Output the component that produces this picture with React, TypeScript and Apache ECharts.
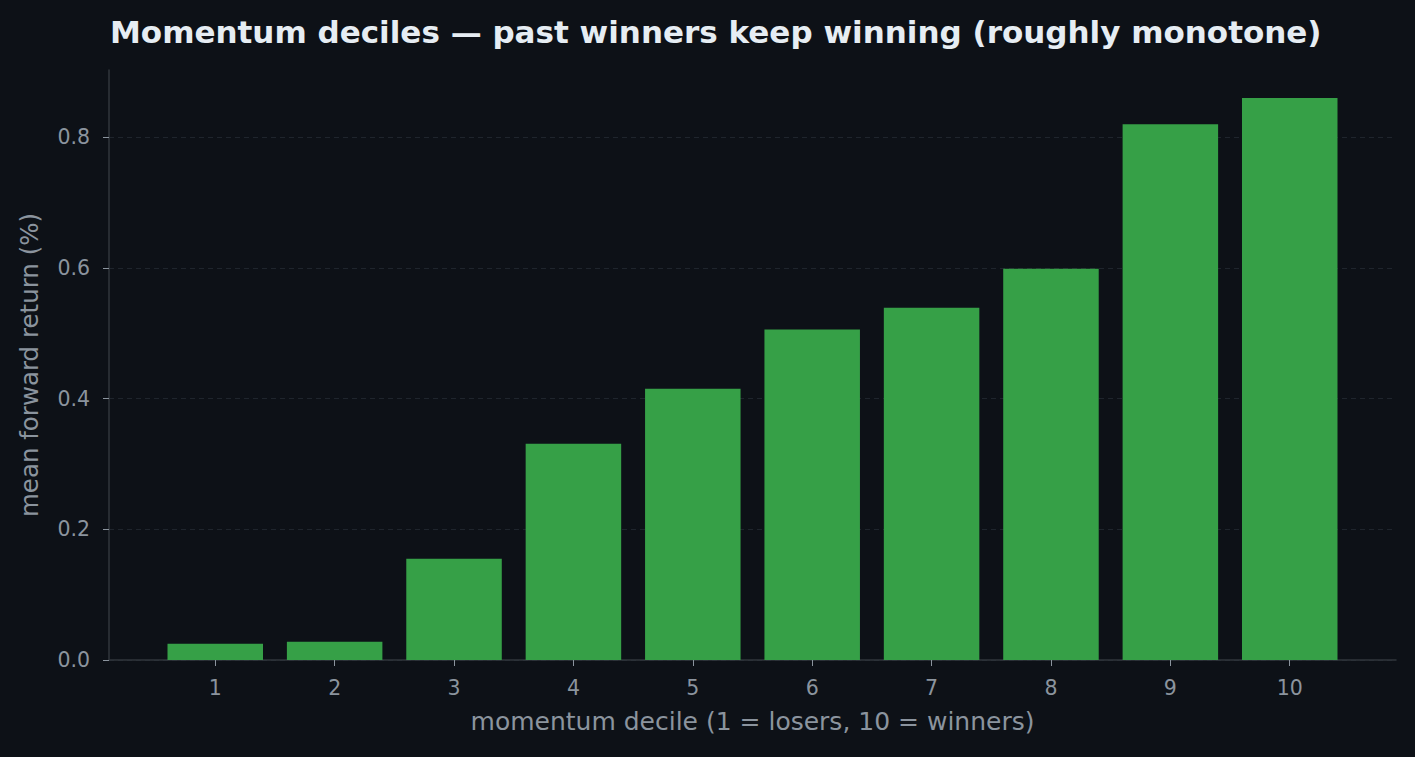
import { useEffect, useRef } from "react";
import * as echarts from "echarts";

const deciles = [1, 2, 3, 4, 5, 6, 7, 8, 9, 10];
const meanReturns = [0.025, 0.028, 0.155, 0.331, 0.415, 0.506, 0.539, 0.599, 0.82, 0.86];
const yTicks = [0, 0.2, 0.4, 0.6, 0.8];

const FONT = "DejaVu Sans";

export default function App() {
  const chartRef = useRef<HTMLDivElement>(null);

  useEffect(() => {
    if (!chartRef.current) return;
    const chart = echarts.init(chartRef.current, null, { renderer: "svg" });

    const option: echarts.EChartsOption = {
      animation: false,
      backgroundColor: "#0d1117",
      textStyle: { fontFamily: FONT },
      title: {
        text: "Momentum deciles — past winners keep winning (roughly monotone)",
        left: 105,
        top: 11,
        textStyle: { color: "#e6edf3", fontSize: 31, fontWeight: "bold", fontFamily: FONT },
      },
      grid: { left: 109, right: 19, top: 70, bottom: 97 },
      xAxis: {
        type: "value",
        min: 0.11,
        max: 10.89,
        name: "momentum decile (1 = losers, 10 = winners)",
        nameLocation: "middle",
        nameGap: 49,
        nameTextStyle: { color: "#8b949e", fontSize: 25, fontFamily: FONT },
        axisLine: { show: true, lineStyle: { color: "#30363d", width: 1.5 } },
        axisTick: { show: true, length: 6, customValues: deciles, lineStyle: { color: "#8b949e" } },
        axisLabel: { customValues: deciles, color: "#8b949e", fontSize: 20.5, margin: 17, fontFamily: FONT },
        splitLine: { show: false },
      },
      yAxis: {
        type: "value",
        min: 0,
        max: 0.903,
        name: "mean forward return (%)",
        nameLocation: "middle",
        nameGap: 67,
        nameTextStyle: { color: "#8b949e", fontSize: 24.5, fontFamily: FONT },
        axisLine: { show: true, lineStyle: { color: "#30363d", width: 1.5 } },
        axisTick: { show: true, length: 6, customValues: yTicks, lineStyle: { color: "#8b949e" } },
        axisLabel: {
          customValues: yTicks,
          color: "#8b949e",
          fontSize: 20.5,
          margin: 19,
          fontFamily: FONT,
          formatter: (v: number) => v.toFixed(1),
        },
        splitLine: {
          show: true,
          customValues: yTicks,
          lineStyle: { color: "#1f252d", type: [5, 4], width: 1 },
        } as any,
      },
      series: [
        {
          type: "bar",
          data: deciles.map((d, i) => [d, meanReturns[i]]),
          barWidth: "80%",
          itemStyle: { color: "#36a047" },
          silent: true,
        },
      ],
    };

    chart.setOption(option);
    return () => chart.dispose();
  }, []);

  return <div ref={chartRef} style={{ position: "fixed", left: 0, top: 0, width: 1415, height: 757 }} />;
}
